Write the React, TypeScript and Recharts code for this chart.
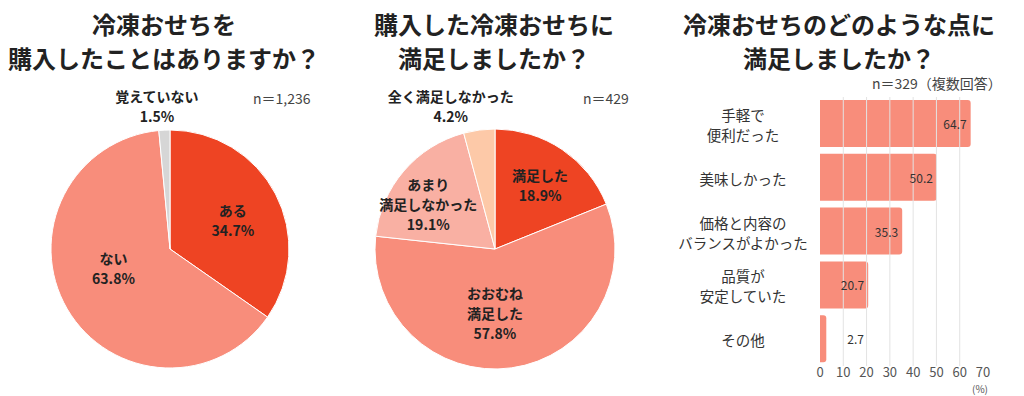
import {
  Bar,
  BarChart,
  Cell,
  LabelList,
  Pie,
  PieChart,
  ReferenceLine,
  XAxis,
  YAxis,
} from "recharts";

const FONT = '"Noto Sans CJK JP", "Noto Sans", sans-serif';
const RADIAN = Math.PI / 180;

// Q1: 冷凍おせちを購入したことはありますか？
const purchaseNames = ["ある", "ない", "覚えていない"];
const purchaseValues = [34.7, 63.8, 1.5];
const purchaseColors = ["#EE4423", "#F88D7B", "#D6D6D6"];

// Q2: 購入した冷凍おせちに満足しましたか？
const satisfyNames = ["満足した", "おおむね\n満足した", "あまり\n満足しなかった", "全く満足しなかった"];
const satisfyValues = [18.9, 57.8, 19.1, 4.2];
const satisfyColors = ["#EE4423", "#F88D7B", "#F9B0A3", "#FDC9A8"];

// Q3: 冷凍おせちのどのような点に満足しましたか？（複数回答）
const pointNames = ["手軽で\n便利だった", "美味しかった", "価格と内容の\nバランスがよかった", "品質が\n安定していた", "その他"];
const pointValues = [64.7, 50.2, 35.3, 20.7, 2.7];
const xTicks = [0, 10, 20, 30, 40, 50, 60, 70];

const purchaseData = purchaseNames.map((name, i) => ({ name, value: purchaseValues[i] }));
const satisfyData = satisfyNames.map((name, i) => ({ name, value: satisfyValues[i] }));
const pointData = pointNames.map((name, i) => ({ name, value: pointValues[i] }));

// label placement: radius factor of outerRadius + angle tweak, per slice
const purchaseLabelPos = [
  { r: 0.58, shift: -3 },
  { r: 0.5, shift: -12 },
  { r: 1.21, shift: 2.5 },
];
const satisfyLabelPos = [
  { r: 0.65, shift: -1.3 },
  { r: 0.53, shift: -8 },
  { r: 0.67, shift: 6.6 },
  { r: 1.25, shift: 9.6 },
];

const NO_MARGIN = { top: 0, right: 0, bottom: 0, left: 0 };

const makePieLabel = (pos: { r: number; shift: number }[]) => (props: any) => {
  const { cx, cy, outerRadius, midAngle, index, name, value } = props;
  const p = pos[index];
  const ang = (midAngle + p.shift) * RADIAN;
  const R = outerRadius * p.r;
  const x = cx + R * Math.cos(-ang);
  const y = cy + R * Math.sin(-ang);
  const lines = [...String(name).split("\n"), `${value.toFixed(1)}%`];
  const lh = 20;
  const y0 = y - ((lines.length - 1) * lh) / 2;
  return (
    <text
      textAnchor="middle"
      dominantBaseline="central"
      fontFamily={FONT}
      fontSize={14}
      fontWeight={700}
      fill="#222"
    >
      {lines.map((l, i) => (
        <tspan key={i} x={x} y={y0 + i * lh}>
          {l}
        </tspan>
      ))}
    </text>
  );
};

const CategoryTick = (props: any) => {
  const { x, y, payload } = props;
  const lines = String(payload.value).split("\n");
  const lh = 20;
  const y0 = y - ((lines.length - 1) * lh) / 2;
  return (
    <text textAnchor="middle" dominantBaseline="central" fontFamily={FONT} fontSize={14.5} fill="#333">
      {lines.map((l, i) => (
        <tspan key={i} x={x - 69} y={y0 + i * lh}>
          {l}
        </tspan>
      ))}
    </text>
  );
};

const ValueLabel = (props: any) => {
  const { x, y, width, height, value } = props;
  const inside = value >= 10;
  return (
    <text
      x={inside ? x + width - 4 : x + width + 21}
      y={y + height / 2}
      textAnchor={inside ? "end" : "start"}
      dominantBaseline="central"
      fontFamily={FONT}
      fontSize={12}
      fill="#333"
    >
      {value.toFixed(1)}
    </text>
  );
};

const titleStyle = (center: number): React.CSSProperties => ({
  position: "absolute",
  top: 7,
  left: center - 170,
  width: 340,
  textAlign: "center",
  fontFamily: FONT,
  fontSize: 24,
  fontWeight: 700,
  lineHeight: "34px",
  color: "#222",
  whiteSpace: "pre",
});

const nStyle = (left: number, top: number): React.CSSProperties => ({
  position: "absolute",
  left,
  top,
  fontFamily: FONT,
  fontSize: 14,
  lineHeight: "20px",
  color: "#444",
  whiteSpace: "pre",
});

export default function App() {
  return (
    <div
      style={{
        position: "absolute",
        left: 0,
        top: 0,
        width: 1024,
        height: 396,
        background: "#fff",
        overflow: "hidden",
      }}
    >
      <div style={{ position: "absolute", left: 0, top: 0 }}>
        <PieChart width={340} height={396} margin={NO_MARGIN}>
          <Pie
            data={purchaseData}
            dataKey="value"
            nameKey="name"
            cx={170}
            cy={249}
            outerRadius={119}
            startAngle={90}
            endAngle={-270}
            stroke="#fff"
            strokeWidth={1}
            labelLine={false}
            label={makePieLabel(purchaseLabelPos)}
            isAnimationActive={false}
          >
            {purchaseData.map((d, i) => (
              <Cell key={d.name} fill={purchaseColors[i]} />
            ))}
          </Pie>
        </PieChart>
      </div>

      <div style={{ position: "absolute", left: 340, top: 0 }}>
        <PieChart width={340} height={396} margin={NO_MARGIN}>
          <Pie
            data={satisfyData}
            dataKey="value"
            nameKey="name"
            cx={155}
            cy={249}
            outerRadius={120}
            startAngle={90}
            endAngle={-270}
            stroke="#fff"
            strokeWidth={1}
            labelLine={false}
            label={makePieLabel(satisfyLabelPos)}
            isAnimationActive={false}
          >
            {satisfyData.map((d, i) => (
              <Cell key={d.name} fill={satisfyColors[i]} />
            ))}
          </Pie>
        </PieChart>
      </div>

      <div style={{ position: "absolute", left: 670, top: 0 }}>
        <BarChart
          width={354}
          height={396}
          data={pointData}
          layout="vertical"
          margin={{ top: 97, right: 41, bottom: 10, left: 10 }}
        >
          {xTicks.slice(1, -1).map((t) => (
            <ReferenceLine key={t} x={t} stroke="#e3e3e3" strokeWidth={1} />
          ))}
          <XAxis
            type="number"
            domain={[0, 70]}
            ticks={xTicks}
            axisLine={false}
            tickLine={false}
            tickSize={0}
            tickMargin={2}
            height={20}
            tick={{ fontFamily: FONT, fontSize: 13, fill: "#555" }}
          />
          <YAxis
            type="category"
            dataKey="name"
            width={140}
            axisLine={false}
            tickLine={false}
            tick={<CategoryTick />}
          />
          <Bar dataKey="value" fill="#F88D7B" barSize={47} radius={[0, 3, 3, 0]} isAnimationActive={false}>
            <LabelList dataKey="value" content={<ValueLabel />} />
          </Bar>
        </BarChart>
      </div>

      <div style={titleStyle(164)}>{"冷凍おせちを\n購入したことはありますか？"}</div>
      <div style={titleStyle(494)}>{"購入した冷凍おせちに\n満足しましたか？"}</div>
      <div style={titleStyle(839)}>{"冷凍おせちのどのような点に\n満足しましたか？"}</div>

      <div style={nStyle(253, 88)}>n＝1,236</div>
      <div style={nStyle(583, 88)}>n＝429</div>
      <div style={nStyle(872, 73)}>n＝329（複数回答）</div>
      <div
        style={{
          position: "absolute",
          left: 972,
          top: 381,
          fontFamily: FONT,
          fontSize: 10,
          color: "#555",
        }}
      >
        (%)
      </div>
    </div>
  );
}
